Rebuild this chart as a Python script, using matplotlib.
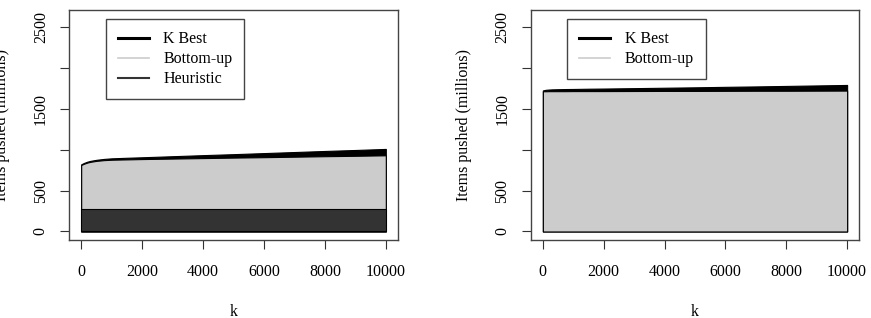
import numpy as np
import matplotlib
matplotlib.use("Agg")
import matplotlib.pyplot as plt
from matplotlib.lines import Line2D

plt.rcParams['font.family'] = ['Liberation Serif', 'DejaVu Serif']
plt.rcParams['font.size'] = 11.5

# values (items pushed, millions)
k = [0, 100, 200, 300, 500, 750, 1000, 1500, 2000, 3000, 4000, 5000,
     6000, 7000, 8000, 9000, 10000]

left_kbest = [820, 838, 852, 862, 875, 886, 893, 900, 906, 919, 932, 944,
              957, 970, 983, 995, 1008]
left_bottomup = [812, 828, 841, 850, 862, 871, 876, 880, 884, 890, 896, 902,
                 907, 913, 919, 924, 930]
left_heuristic = [280] * len(k)

right_kbest = [1722, 1730, 1733, 1735, 1737, 1739, 1740, 1743, 1745, 1750, 1755,
               1760, 1766, 1771, 1777, 1783, 1789]
right_bottomup = [1712, 1712, 1713, 1713, 1713, 1713, 1714, 1714, 1714, 1715,
                  1716, 1716, 1717, 1718, 1718, 1719, 1720]

xticks = [0, 2000, 4000, 6000, 8000, 10000]
yticks = [0, 500, 1000, 1500, 2000, 2500]
ytick_labels = ['0', '500', '', '1500', '', '2500']

col_kbest = 'black'
col_bottomup = '#cccccc'
col_heur = '#333333'

fig = plt.figure(figsize=(8.71, 3.18), dpi=100)
ax1 = fig.add_axes([69 / 871, 1 - 240 / 318, 329 / 871, 230 / 318])
ax2 = fig.add_axes([530.7 / 871, 1 - 240 / 318, 328.6 / 871, 230 / 318])


def style(ax):
    ax.set_xlim(-400, 10400)
    ax.set_ylim(-104, 2704)
    ax.set_xticks(xticks)
    ax.set_xticklabels([str(t) for t in xticks])
    ax.set_yticks(yticks)
    ax.set_yticklabels(ytick_labels, rotation=90, va='center')
    ax.tick_params(length=6.5, width=0.8, color='#333333')
    ax.tick_params(axis='x', pad=11)
    ax.tick_params(axis='y', pad=8)
    for s in ax.spines.values():
        s.set_linewidth(1.0)
        s.set_color('#444444')
    ax.set_xlabel('k', va='center')
    ax.xaxis.set_label_coords(0.5, -71.7 / 230)
    ax.set_ylabel('Items pushed (millions)', va='center')
    ax.yaxis.set_label_coords(-67 / 329, 0.5)


def legend(ax, labels, colors, widths):
    handles = [Line2D([0], [0], color=c, lw=w) for c, w in zip(colors, widths)]
    leg = ax.legend(handles, labels, loc='upper left',
                    bbox_to_anchor=(0.1115, 0.9596), borderaxespad=0,
                    fancybox=False, framealpha=1, edgecolor='#444444',
                    handlelength=1.95, handletextpad=0.9, labelspacing=0.25,
                    borderpad=0.75)
    leg.get_frame().set_linewidth(1.0)


# left panel
ax1.fill_between(k, 0, left_kbest, facecolor=col_kbest, edgecolor='black', lw=0.8)
ax1.fill_between(k, 0, left_bottomup, facecolor=col_bottomup, edgecolor='black', lw=0.8)
ax1.fill_between(k, 0, left_heuristic, facecolor=col_heur, edgecolor='black', lw=0.8)
style(ax1)
legend(ax1, ['K Best', 'Bottom-up', 'Heuristic'],
       [col_kbest, col_bottomup, col_heur], [2.2, 1.2, 1.5])

# right panel
ax2.fill_between(k, 0, right_kbest, facecolor=col_kbest, edgecolor='black', lw=0.8)
ax2.fill_between(k, 0, right_bottomup, facecolor=col_bottomup, edgecolor='black', lw=0.8)
style(ax2)
legend(ax2, ['K Best', 'Bottom-up'], [col_kbest, col_bottomup], [2.2, 1.2])

fig.savefig('out.png', dpi=100)
